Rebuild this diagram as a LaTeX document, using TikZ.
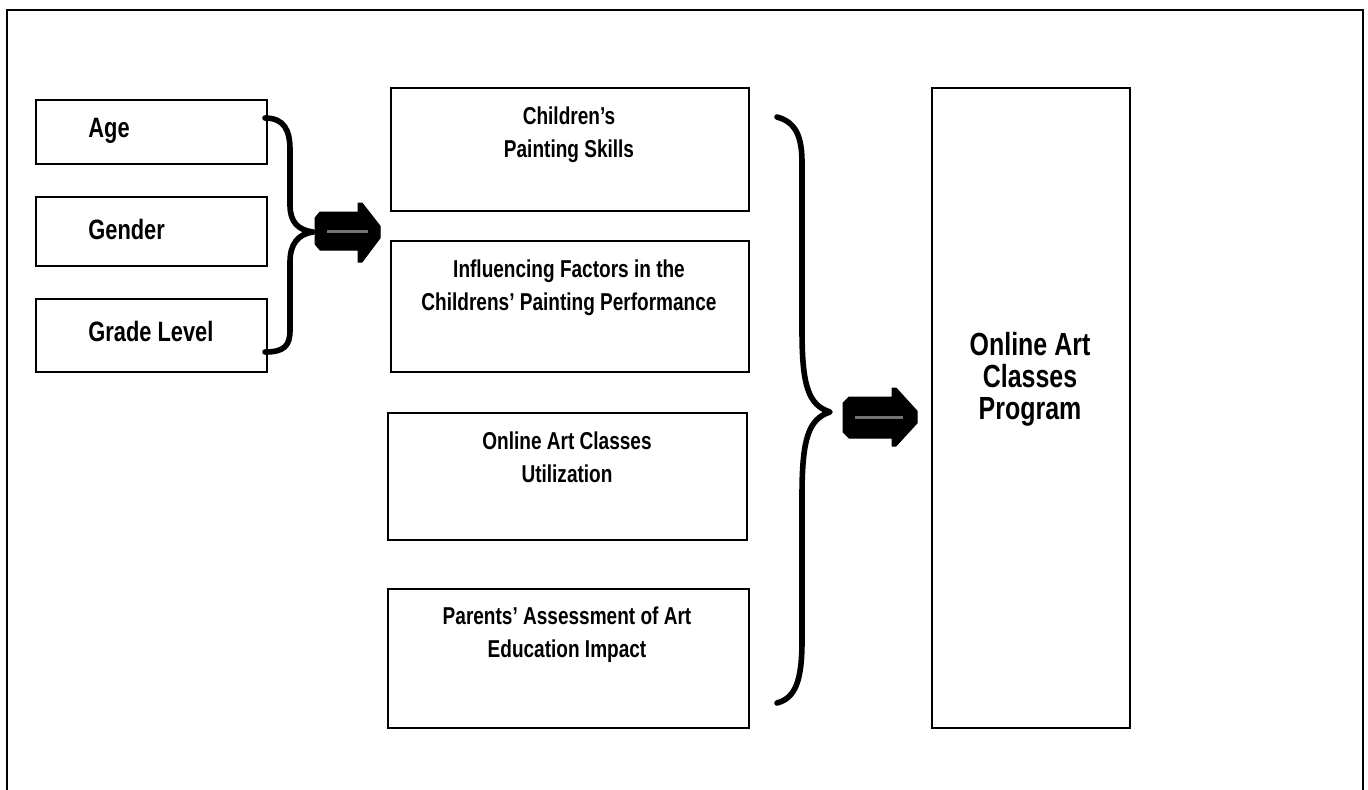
\documentclass[tikz,border=0pt]{standalone}
\usepackage{fontspec}
\setmainfont[FakeStretch=0.78]{Liberation Sans}
\begin{document}
\begin{tikzpicture}[x=0.5pt,y=-0.5pt,
  box/.style={draw=black, line width=1pt, anchor=north west, inner sep=0pt},
  lbl/.style={font=\fontsize{14}{17}\selectfont\bfseries, inner sep=0pt, anchor=west},
  midtxt/.style={font=\fontsize{12.2}{16.5}\selectfont\bfseries, align=center, inner sep=0pt},
  bigtxt/.style={font=\fontsize{16}{16}\selectfont\bfseries, align=center, inner sep=0pt},
  brace/.style={line width=2.8pt, line cap=round, line join=round},
  blockarrow/.style={fill=black, draw=black, line width=0.5pt, line join=round},
  arrowcore/.style={draw=black!55, line width=1.5pt}
]
\useasboundingbox (0,0) rectangle (1368,789);
\clip (0,0) rectangle (1368,789);

% outer frame (its lower edge lies below the page)
\draw[line width=1.3pt] (7,820) -- (7,10) -- (1363,10) -- (1363,820);

% left column
\node[box, minimum width=115.5pt, minimum height=32pt]   (age)    at (35,99)  {};
\node[box, minimum width=115.5pt, minimum height=34.5pt] (gender) at (35,196) {};
\node[box, minimum width=115.5pt, minimum height=36.5pt] (grade)  at (35,298) {};
\node[lbl] (agetxt)    at (88,131) {Age};
\node[lbl] (gendertxt) at (88,229) {Gender};
\node[lbl] (gradetxt)  at (88,331) {Grade Level};

% middle column
\node[box, minimum width=179pt,   minimum height=61.5pt] (skills)  at (390,87)  {};
\node[box, minimum width=179pt,   minimum height=65.5pt] (factors) at (390,240) {};
\node[box, minimum width=179.5pt, minimum height=63.5pt] (util)    at (387,412) {};
\node[box, minimum width=180.5pt, minimum height=69.5pt] (impact)  at (387,588) {};
\node[midtxt] (skillstxt)  at (569,135) {Children's\\Painting Skills};
\node[midtxt] (factorstxt) at (569,288) {Influencing Factors in the\\Childrens' Painting Performance};
\node[midtxt] (utiltxt)    at (567,457) {Online Art Classes\\Utilization};
\node[midtxt] (impacttxt)  at (567,635) {Parents' Assessment of Art\\Education Impact};

% right column
\node[box, minimum width=99pt, minimum height=320pt] (program) at (931,87) {};
\node[bigtxt] (programtxt) at (1030,379) {Online Art\\Classes\\Program};

% left brace
\draw[brace] (265,118) .. controls (284,118) and (290,130) .. (290,150)
  -- (290,205) .. controls (290,222) and (298,230) .. (313,232)
  .. controls (298,234) and (290,244) .. (290,262)
  -- (290,330) .. controls (290,346) and (284,352) .. (265,352);

% right brace
\draw[brace] (777,117) .. controls (795,122) and (802,135) .. (802,163)
  -- (802,330) .. controls (802,385) and (808,405) .. (830,412)
  .. controls (808,419) and (802,440) .. (802,496)
  -- (802,640) .. controls (802,682) and (795,698) .. (777,703);

% block arrows
\fill[blockarrow] (315,218) -- (320,212) -- (358,212) -- (358,203) -- (362,203)
  -- (380,226) -- (380,238) -- (362,262) -- (358,262) -- (358,250)
  -- (320,250) -- (315,244) -- cycle;
\draw[arrowcore] (327,231) -- (368,231);

\fill[blockarrow] (843,403) -- (849,397) -- (892,397) -- (892,388) -- (896,388)
  -- (917,411) -- (917,423) -- (896,446) -- (892,446) -- (892,438)
  -- (849,438) -- (843,432) -- cycle;
\draw[arrowcore] (855,417) -- (903,417);
\end{tikzpicture}
\end{document}
